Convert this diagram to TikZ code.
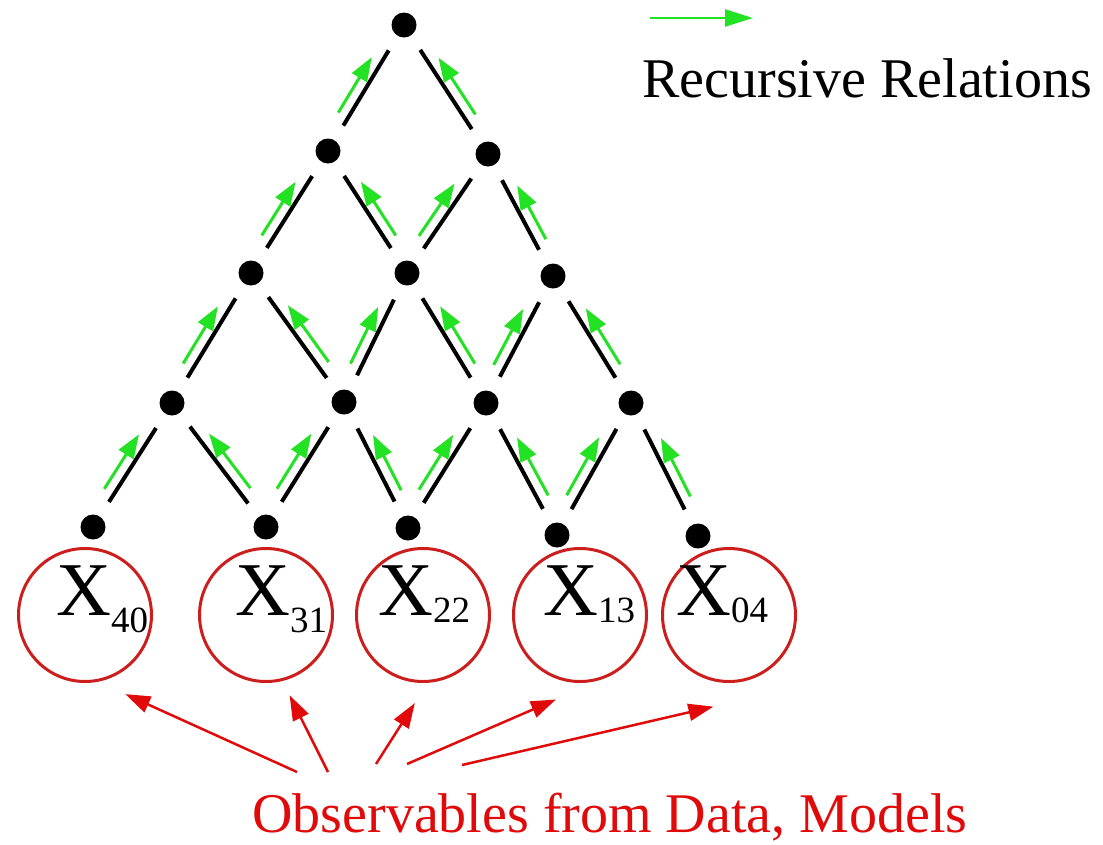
\documentclass[tikz,border=0pt]{standalone}
\usepackage{fontspec}
\setmainfont{Liberation Serif}
\usepackage{tikz}
\usetikzlibrary{arrows.meta,calc}
\definecolor{recgreen}{RGB}{35,225,35}
\definecolor{circred}{RGB}{205,30,30}
\definecolor{obsred}{RGB}{225,10,10}
\newcommand{\Xsub}[2]{X\raisebox{-#2}{\fontsize{37}{37}\selectfont #1}}

\begin{document}
\begin{tikzpicture}[
x=1pt, y=-1pt,
dot/.style={circle,fill=black,inner sep=0pt,minimum size=25pt},
obs/.style={circle,draw=circred,line width=3pt,inner sep=0pt,minimum size=133pt},
link/.style={line width=4pt,shorten >=17pt,shorten <=17pt},
rec/.style={draw=recgreen,line width=3pt,-{Triangle[length=24pt,width=17pt]}},
feed/.style={draw=obsred,line width=2.5pt,-{Triangle[length=25pt,width=17pt]}},
xlab/.style={anchor=base west,inner sep=0pt,font=\fontsize{76}{76}\selectfont}
]
    \useasboundingbox (0,0) rectangle (1103,844);

    % Draw the grid points
    \node[dot] (A) at (404,25) {};
    \node[dot] (B1) at (328,151) {};
    \node[dot] (B2) at (488,154) {};
    \node[dot] (C1) at (251,273) {};
    \node[dot] (C2) at (407,273) {};
    \node[dot] (C3) at (553,276) {};
    \node[dot] (D1) at (172,403) {};
    \node[dot] (D2) at (344,402) {};
    \node[dot] (D3) at (486,403) {};
    \node[dot] (D4) at (631,403) {};
    \node[dot] (E1) at (93,527) {};
    \node[dot] (E2) at (266,527) {};
    \node[dot] (E3) at (408,528) {};
    \node[dot] (E4) at (557,535) {};
    \node[dot] (E5) at (698,536) {};

    % Observables
    \node[obs] (X40) at (85,615) {};
    \node[obs] (X31) at (266,615) {};
    \node[obs] (X22) at (423,615) {};
    \node[obs] (X13) at (580,615) {};
    \node[obs] (X04) at (729,615) {};
    \node[xlab] (L40) at (56,615) {\Xsub{40}{17pt}};
    \node[xlab] (L31) at (235,615) {\Xsub{31}{17pt}};
    \node[xlab] (L22) at (378,615) {\Xsub{22}{7pt}};
    \node[xlab] (L13) at (543,615) {\Xsub{13}{7pt}};
    \node[xlab] (L04) at (676,615) {\Xsub{04}{7pt}};

    % Links and recursive relations
    \foreach \ch/\pa/\an in {B1/A/90, B2/A/-90,
      C1/B1/90, C2/B1/-90, C2/B2/90, C3/B2/-90,
      D1/C1/90, D2/C1/-90, D2/C2/90, D3/C2/-90, D3/C3/90, D4/C3/-90,
      E1/D1/90, E2/D1/-90, E2/D2/90, E3/D2/-90, E3/D3/90, E4/D3/-90, E4/D4/90, E5/D4/-90}
    {
      \draw[link] (\ch) -- (\pa);
      \draw[rec] ($(\ch)!0.26!(\pa)!11pt!\an:(\pa)$) -- ($(\ch)!0.70!(\pa)!11pt!\an:(\pa)$);
    }

    % Legend
    \coordinate (R1) at (650,18);
    \coordinate (R2) at (753,18);
    \draw[rec,line width=2.5pt,-{Triangle[length=28pt,width=17pt]}] (R1) -- (R2);
    \node[anchor=base,inner sep=0pt,font=\fontsize{56}{56}\selectfont] (rel) at (867,97) {Recursive Relations};

    % Data arrows
    \node[anchor=base,inner sep=0pt,text=obsred,font=\fontsize{56}{56}\selectfont] (data) at (610,832) {Observables from Data, Models};
    \coordinate (O1) at (297,772);
    \coordinate (O2) at (328,772);
    \coordinate (O3) at (376,764);
    \coordinate (O4) at (407,764);
    \coordinate (O5) at (462,765);
    \draw[feed,shorten >=30pt] (O1) -- (X40.-79);
    \draw[feed,shorten >=16pt] (O2) -- (X31.-76);
    \draw[feed,shorten >=24pt] (O3) -- (X22.-86);
    \draw[feed,shorten >=54pt] (O4) -- (X13.-68);
    \draw[feed,shorten >=16pt] (O5) -- ([yshift=-20pt]X04.south);
\end{tikzpicture}
\end{document}
